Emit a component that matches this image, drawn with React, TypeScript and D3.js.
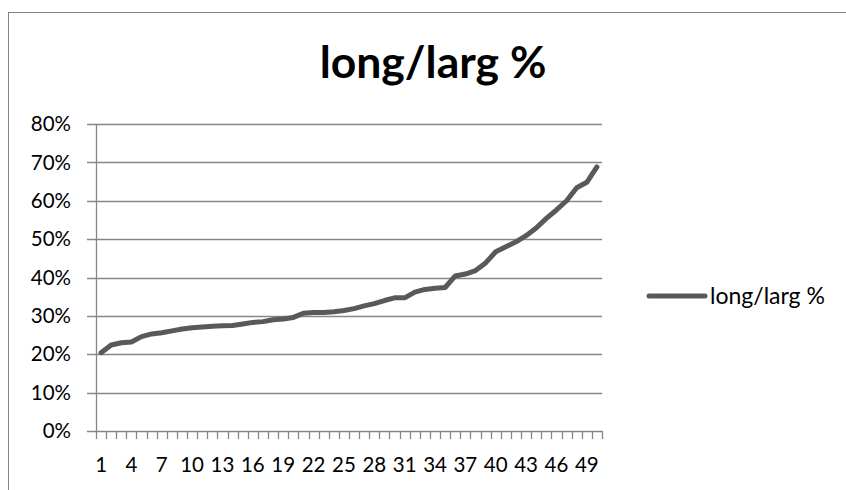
import { useEffect, useRef } from "react";
import * as d3 from "d3";

const seriesName = "long/larg %";

const ratios = [
  0.204, 0.224, 0.23, 0.232, 0.246, 0.253, 0.256, 0.261, 0.266, 0.269,
  0.271, 0.273, 0.274, 0.275, 0.279, 0.283, 0.285, 0.29, 0.292, 0.296,
  0.307, 0.309, 0.309, 0.311, 0.314, 0.319, 0.326, 0.332, 0.34, 0.347,
  0.347, 0.362, 0.369, 0.372, 0.374, 0.404, 0.409, 0.418, 0.438, 0.467,
  0.48, 0.493, 0.509, 0.529, 0.554, 0.576, 0.6, 0.634, 0.648, 0.688,
];

const categories = ratios.map((_, i) => String(i + 1));

const yTicks = [0, 0.1, 0.2, 0.3, 0.4, 0.5, 0.6, 0.7, 0.8];

const FONT = "Lato, 'Open Sans', sans-serif";
const GRID = "#868686";
const LINE = "#595959";

export default function App() {
  const svgRef = useRef<SVGSVGElement>(null);

  useEffect(() => {
    const svg = d3.select(svgRef.current);
    svg.selectAll("*").remove();

    const margin = { top: 124, right: 244, bottom: 59, left: 96 };
    const W = 846;
    const H = 490;
    const width = W - margin.left - margin.right;
    const height = H - margin.top - margin.bottom;

    // chart frame (runs off the page at right and bottom)
    svg
      .append("rect")
      .attr("x", 8.5)
      .attr("y", 12.5)
      .attr("width", 900)
      .attr("height", 600)
      .attr("fill", "#fff")
      .attr("stroke", GRID);

    // title
    svg
      .append("text")
      .attr("x", 433)
      .attr("y", 78)
      .attr("text-anchor", "middle")
      .attr("font-family", FONT)
      .attr("font-weight", "bold")
      .attr("font-size", 44.5)
      .attr("fill", "#000")
      .text(seriesName);

    const g = svg
      .append("g")
      .attr("transform", `translate(${margin.left},${margin.top})`);

    const x = d3.scaleBand<string>().domain(categories).range([0, width]);
    const y = d3.scaleLinear().domain([0, 0.8]).range([height, 0]);

    // horizontal grid lines + y ticks
    g.append("g")
      .selectAll("line")
      .data(yTicks)
      .enter()
      .append("line")
      .attr("x1", -9)
      .attr("x2", width)
      .attr("y1", (d) => Math.round(y(d)) + 0.5)
      .attr("y2", (d) => Math.round(y(d)) + 0.5)
      .attr("stroke", GRID)
      .attr("stroke-width", 1.3);

    // y axis line
    g.append("line")
      .attr("x1", 0.5)
      .attr("x2", 0.5)
      .attr("y1", 0)
      .attr("y2", height)
      .attr("stroke", GRID)
      .attr("stroke-width", 1.3);

    // y labels
    g.append("g")
      .selectAll("text")
      .data(yTicks)
      .enter()
      .append("text")
      .attr("x", -25)
      .attr("y", (d) => y(d))
      .attr("dy", "0.35em")
      .attr("text-anchor", "end")
      .attr("font-family", FONT)
      .attr("font-size", 20.5)
      .attr("fill", "#000")
      .text((d) => d3.format(".0%")(d));

    // x minor ticks at category boundaries
    const bounds = categories.map((c) => x(c) || 0).concat([width]);
    g.append("g")
      .selectAll("line")
      .data(bounds)
      .enter()
      .append("line")
      .attr("x1", (d) => Math.round(d) + 0.5)
      .attr("x2", (d) => Math.round(d) + 0.5)
      .attr("y1", height)
      .attr("y2", height + 8)
      .attr("stroke", GRID)
      .attr("stroke-width", 1.3);

    // x labels, every third category
    g.append("g")
      .selectAll("text")
      .data(categories.filter((_, i) => i % 3 === 0))
      .enter()
      .append("text")
      .attr("x", (d) => (x(d) || 0) + x.bandwidth() / 2)
      .attr("y", height + 41)
      .attr("text-anchor", "middle")
      .attr("font-family", FONT)
      .attr("font-size", 20.5)
      .attr("fill", "#000")
      .text((d) => d);

    // series line
    const line = d3
      .line<number>()
      .x((_, i) => (x(categories[i]) || 0) + x.bandwidth() / 2)
      .y((d) => y(d));

    g.append("path")
      .datum(ratios)
      .attr("d", line)
      .attr("fill", "none")
      .attr("stroke", LINE)
      .attr("stroke-width", 5)
      .attr("stroke-linejoin", "round")
      .attr("stroke-linecap", "round");

    // legend
    const lg = svg.append("g").attr("transform", "translate(649,296)");
    lg.append("line")
      .attr("x1", 0)
      .attr("x2", 56)
      .attr("stroke", LINE)
      .attr("stroke-width", 5)
      .attr("stroke-linecap", "round");
    lg.append("text")
      .attr("x", 61)
      .attr("dy", "0.35em")
      .attr("font-family", FONT)
      .attr("font-size", 23)
      .attr("fill", "#000")
      .text(seriesName);
  }, []);

  return (
    <svg
      ref={svgRef}
      width={846}
      height={490}
      style={{ position: "absolute", left: 0, top: 0 }}
    />
  );
}
